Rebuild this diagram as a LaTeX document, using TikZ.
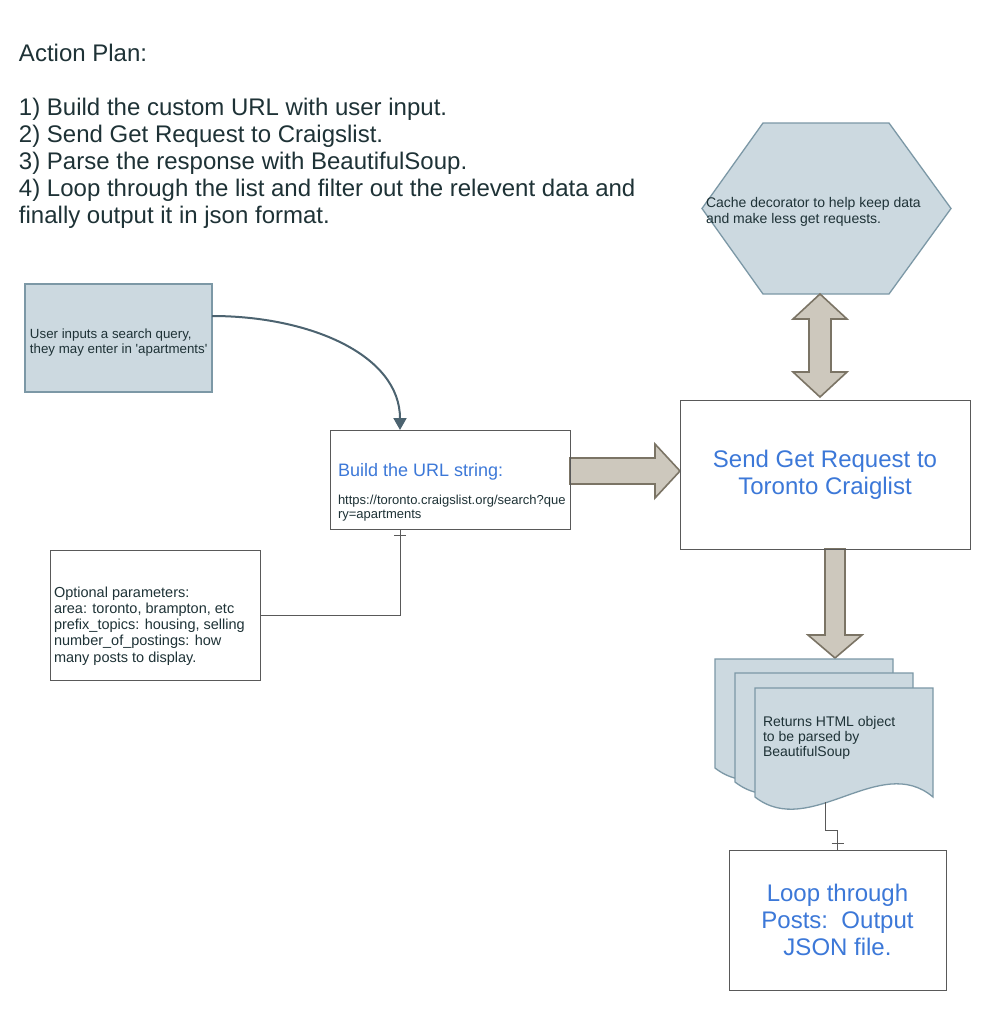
\documentclass[tikz,border=0pt]{standalone}
\usepackage{fontspec}
\setmainfont{Liberation Sans}
\usetikzlibrary{calc,arrows.meta}
\pgfdeclarelayer{bg}
\pgfsetlayers{bg,main}
\definecolor{txtc}{HTML}{1E3236}
\definecolor{bluetxt}{HTML}{3C78D8}
\definecolor{bfill}{HTML}{CCD9E0}
\definecolor{bline}{HTML}{7C98A6}
\definecolor{afill}{HTML}{CDC8BD}
\definecolor{aline}{HTML}{7B7465}
\definecolor{boxline}{HTML}{595959}
\definecolor{curvec}{HTML}{4C6370}
\newcommand{\mytb}[4]{\parbox[t]{#3}{\fontsize{#1}{#2}\selectfont #4}}
\tikzset{
  lbl/.style={anchor=base west, inner sep=0pt, outer sep=0pt, text=txtc},
  bluebox/.style={draw=bline, fill=bfill, line width=1.3pt},
  plainbox/.style={draw=boxline, line width=1pt, inner sep=0pt, outer sep=0pt, anchor=north west},
  fatarrow/.style={draw=aline, fill=afill, line width=1.6pt, line join=miter},
  conn/.style={draw=boxline, line width=1pt},
  bigblue/.style={text=bluetxt, align=center, font=\fontsize{24}{27}\selectfont}
}
\begin{document}
\begin{tikzpicture}[x=1pt,y=-1pt]
\begin{pgfonlayer}{bg}
\fill[white] (0,0) rectangle (990,1010);
\end{pgfonlayer}
\useasboundingbox (0,0) rectangle (990,1010);

% title
\node[lbl] (plan) at (19,61) {\mytb{24}{27}{700pt}{Action Plan:\\\mbox{}\\1) Build the custom URL with user input.\\2) Send Get Request to Craigslist.\\3) Parse the response with BeautifulSoup.\\4) Loop through the list and filter out the relevent data and\\finally output it in json format.}};

% boxes
\node[plainbox, minimum width=240pt, minimum height=99pt] (url) at (330,430) {};
\node[plainbox, minimum width=290pt, minimum height=149pt, anchor=center, bigblue] (send) at (825,474.5) {Send Get Request to\\Toronto Craiglist};
\node[plainbox, minimum width=210pt, minimum height=130pt] (opt) at (50,550) {};
\node[plainbox, minimum width=217pt, minimum height=140pt, anchor=center, bigblue] (loop) at (837.5,920) {Loop through\\Posts:\ \ Output\\JSON file.};
\node[bluebox, inner sep=0pt, outer sep=0pt, minimum width=187pt, minimum height=108pt, anchor=north west] (user) at (25,284) {};

% fat arrows (behind the boxes)
\begin{pgfonlayer}{bg}
\coordinate (r0) at ($(url.east)+(0,-8.5)$);
\draw[fatarrow] ($(r0)+(0,-13)$) -- ($(r0)+(85,-13)$) -- ($(r0)+(85,-27)$) -- (send.west |- r0) -- ($(r0)+(85,27)$) -- ($(r0)+(85,13)$) -- ($(r0)+(0,13)$) -- cycle;
\coordinate (d0) at ($(send.south)+(10,0)$);
\draw[fatarrow] ($(d0)+(-10,0)$) -- ($(d0)+(-10,86)$) -- ($(d0)+(-27,86)$) -- ($(d0)+(0,109)$) -- ($(d0)+(27,86)$) -- ($(d0)+(10,86)$) -- ($(d0)+(10,0)$) -- cycle;
\end{pgfonlayer}

% hexagon
\draw[bluebox] (763,123) -- (889,123) -- (951,208.5) -- (889,294) -- (763,294) -- (702,208.5) -- cycle;
\coordinate (hexbot) at (820,294);
\coordinate (sendtop) at (820,397);
\draw[fatarrow] (hexbot) -- ($(hexbot)+(27,25)$) -- ($(hexbot)+(11,25)$) -- ($(sendtop)+(11,-25)$) -- ($(sendtop)+(27,-25)$) -- (sendtop) -- ($(sendtop)+(-27,-25)$) -- ($(sendtop)+(-11,-25)$) -- ($(hexbot)+(-11,25)$) -- ($(hexbot)+(-27,25)$) -- cycle;
\node[lbl] (hextxt) at (706,207.5) {\mytb{14}{15.6}{260pt}{Cache decorator to help keep data\\and make less get requests.}};

% documents
\foreach \dx/\dy in {-40/-29, -20/-15, 0/0}{
  \begin{scope}[shift={(\dx,\dy)}]
    \draw[bluebox] (755,688) -- (933,688) -- (933,797) .. controls (880,752) and (810,840) .. (755,797) -- cycle;
  \end{scope}
}
\coordinate (docbot) at (825,802);
\node[lbl] (doctxt) at (763,726) {\mytb{14}{15}{170pt}{Returns HTML object\\to be parsed by\\BeautifulSoup}};

% texts
\node[lbl] (usertxt) at (30,338) {\mytb{13.3}{15.7}{190pt}{User inputs a search query,\\they may enter in \textquotesingle apartments\textquotesingle}};
\node[lbl, text=bluetxt] (urltitle) at (338,476) {\fontsize{18}{21}\selectfont Build the URL string:};
\node[lbl] (urltxt) at (338,504) {\mytb{13}{14}{240pt}{https://toronto.craigslist.org/search?que\\ry=apartments}};
\node[lbl] (opttxt) at (54,597) {\mytb{14.5}{16.3}{210pt}{Optional parameters:\\area: toronto, brampton, etc\\prefix\_topics: housing, selling\\number\_of\_postings: how\\many posts to display.}};

% connectors
\coordinate (urlin) at ($(url.north west)+(70,0)$);
\draw[curvec, line width=2pt, -{Triangle[width=13pt,length=12pt]}] ($(user.north east)+(0,32)$) .. controls (310,316) and (400,355) .. (urlin);
\coordinate (urlout) at ($(url.south west)+(70,0)$);
\draw[conn] (opt.east) -| (urlout);
\draw[conn] ($(urlout)+(-6,6)$) -- ($(urlout)+(6,6)$);
\coordinate (bend) at (825,830);
\draw[conn] (docbot) -- (bend) -| (loop.north);
\draw[conn] ($(loop.north)+(-6,-7)$) -- ($(loop.north)+(6,-7)$);
\end{tikzpicture}
\end{document}
